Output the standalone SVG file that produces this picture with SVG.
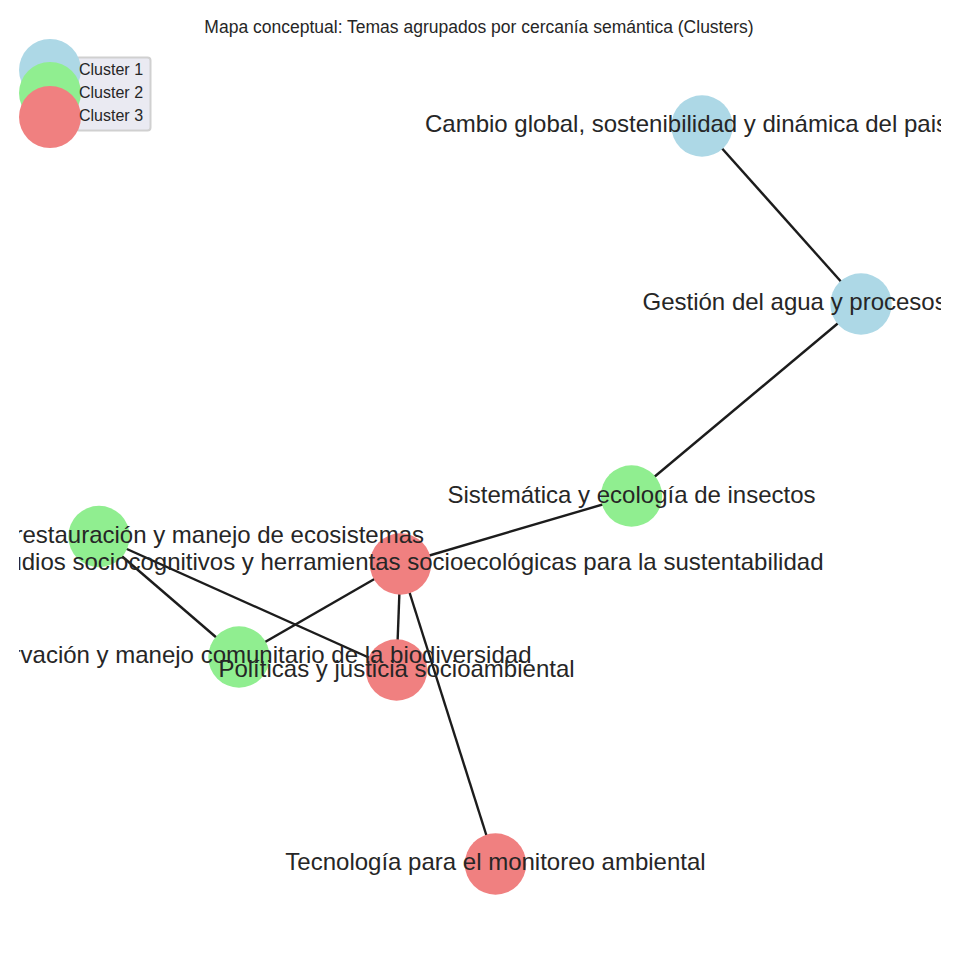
<svg xmlns="http://www.w3.org/2000/svg" width="960" height="960" viewBox="0 0 960 960">
<defs>
<style>
.lbl{font-family:"Liberation Sans",Arial,sans-serif;font-size:24px;fill:#262626}
.ttl{font-family:"Liberation Sans",Arial,sans-serif;font-size:17.5px;fill:#262626}
.leg{font-family:"Liberation Sans",Arial,sans-serif;font-size:16px;fill:#262626}
.c1{fill:#add8e6}
.c2{fill:#90ee90}
.c3{fill:#f08080}
.edge{stroke:#1c1c1c;stroke-width:2.4;fill:none}
</style>
<clipPath id="ax"><rect x="19" y="40" width="922" height="905"/></clipPath>
</defs>
<rect width="960" height="960" fill="#ffffff"/>
<text class="ttl" x="479" y="33" text-anchor="middle">Mapa conceptual: Temas agrupados por cercanía semántica (Clusters)</text>
<g id="connectors" class="edge">
<line x1="702" y1="126" x2="861" y2="304"/>
<line x1="861" y1="304" x2="631.5" y2="496"/>
<line x1="631.5" y1="496" x2="400.5" y2="564"/>
<line x1="400.5" y1="564" x2="239" y2="657"/>
<line x1="400.5" y1="564" x2="396.5" y2="670"/>
<line x1="400.5" y1="564" x2="495.5" y2="864"/>
<line x1="99" y1="536.5" x2="239" y2="657"/>
<line x1="99" y1="536.5" x2="396.5" y2="670"/>
</g>
<g clip-path="url(#ax)">
<g id="n-cambio"><circle class="c1" cx="702" cy="126" r="30.7"/></g>
<g id="n-gestion"><circle class="c1" cx="861" cy="304" r="30.7"/></g>
<g id="n-sistematica"><circle class="c2" cx="631.5" cy="496" r="30.7"/></g>
<g id="n-restauracion"><circle class="c2" cx="99" cy="536.5" r="30.7"/></g>
<g id="n-sociocognitivos"><circle class="c3" cx="400.5" cy="564" r="30.7"/></g>
<g id="n-conservacion"><circle class="c2" cx="239" cy="657" r="30.7"/></g>
<g id="n-politicas"><circle class="c3" cx="396.5" cy="670" r="30.7"/></g>
<g id="n-tecnologia"><circle class="c3" cx="495.5" cy="864" r="30.7"/></g>
<g id="labels">
<text class="lbl" x="425" y="132">Cambio global, sostenibilidad y dinámica del pais</text>
<text class="lbl" x="642.5" y="310">Gestión del agua y procesos</text>
<text class="lbl" x="631.5" y="502.5" text-anchor="middle">Sistemática y ecología de insectos</text>
<text class="lbl" x="424" y="543" text-anchor="end">restauración y manejo de ecosistemas</text>
<text class="lbl" x="823.5" y="570" text-anchor="end">udios sociocognitivos y herramientas socioecológicas para la sustentabilidad</text>
<text class="lbl" x="531.5" y="662.5" text-anchor="end">rvación y manejo comunitario de la biodiversidad</text>
<text class="lbl" x="396.5" y="676.5" text-anchor="middle">Políticas y justicia socioambiental</text>
<text class="lbl" x="495.5" y="870" text-anchor="middle">Tecnología para el monitoreo ambiental</text>
</g>
</g>
<g id="legend">
<rect x="76" y="57.5" width="74.5" height="73" rx="3" fill="#eaeaf2" stroke="#d0d0d0" stroke-width="2"/>
<circle class="c1" cx="50" cy="70" r="31"/>
<circle class="c2" cx="50" cy="93" r="31"/>
<circle class="c3" cx="50" cy="117" r="31"/>
<text class="leg" x="79" y="75">Cluster 1</text>
<text class="leg" x="79" y="98">Cluster 2</text>
<text class="leg" x="79" y="121">Cluster 3</text>
</g>
</svg>
